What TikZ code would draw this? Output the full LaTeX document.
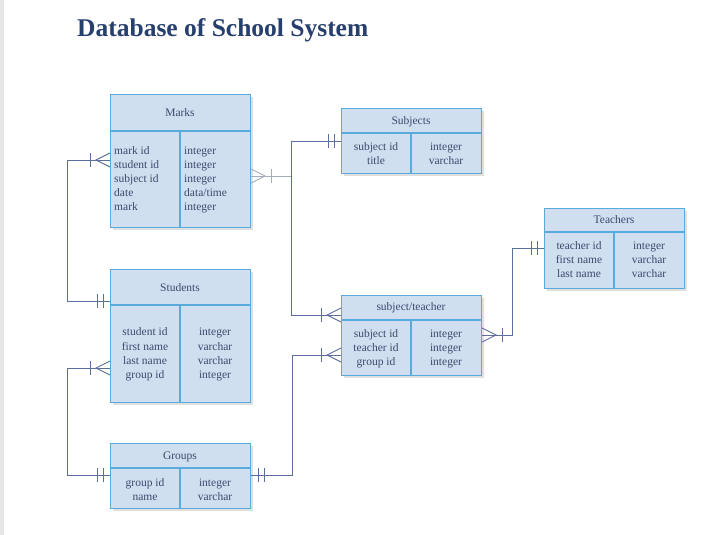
\documentclass[tikz,border=0pt]{standalone}
\usepackage{fontspec}
\setmainfont{Liberation Serif}
\usetikzlibrary{shadows}
\definecolor{boxfill}{HTML}{CFDFF0}
\definecolor{boxedge}{HTML}{5AAADC}
\definecolor{ink}{HTML}{3C4A6C}
\definecolor{conn}{HTML}{5C6E9E}
\definecolor{connlight}{HTML}{A4ACBC}
\definecolor{titleblue}{HTML}{263F6C}
\definecolor{stripgray}{HTML}{E6E6E6}
\begin{document}
\begin{tikzpicture}[x=1pt,y=-1pt,
  tbl/.style={draw=boxedge, fill=boxfill, line width=1.1pt, anchor=north west, inner sep=0pt,
    drop shadow={opacity=0.25, shadow xshift=2pt, shadow yshift=-2pt}},
  boxline/.style={draw=boxedge, line width=1.1pt},
  cell/.style={text=ink, font=\fontsize{11.5}{14}\selectfont, inner sep=0pt, text height=8pt, text depth=2.5pt, yshift=-2pt},
  link/.style={draw=conn, line width=0.9pt},
  linklight/.style={draw=connlight, line width=0.9pt},
  crow/.pic={\draw[pic actions] (0,-7) -- (14,0) -- (0,7); \draw[pic actions] (20,-7) -- (20,7);},
  dbar/.pic={\draw[pic actions] (7,-7) -- (7,7) (13,-7) -- (13,7);}
]
\useasboundingbox (0,0) rectangle (709,535);
\fill[stripgray] (0,0) rectangle (4,535);

\node[anchor=west, text=titleblue, font=\fontsize{25.5}{30}\selectfont\bfseries, inner sep=0pt] (title) at (77,30) {Database of School System};

% ---------- Marks ----------
\node[tbl, minimum width=140pt, minimum height=133pt] (marks) at (110,94) {};
\draw[boxline] (marks.west |- 0,131) -- (marks.east |- 0,131) (180,131) -- (marks.south -| 180,0);
\node[cell] (marks-h) at (180,112) {Marks};
\foreach \t [count=\i] in {mark id, student id, subject id, date, mark}
  \node[cell, anchor=west] (marks-l\i) at (114,{150+14*(\i-1)}) {\t};
\foreach \t [count=\i] in {integer, integer, integer, {data/time}, integer}
  \node[cell, anchor=west] (marks-r\i) at (184,{150+14*(\i-1)}) {\t};

% ---------- Students ----------
\node[tbl, minimum width=140pt, minimum height=133pt] (students) at (110,269) {};
\draw[boxline] (students.west |- 0,305) -- (students.east |- 0,305) (180,305) -- (students.south -| 180,0);
\node[cell] (students-h) at (180,287) {Students};
\foreach \t [count=\i] in {student id, first name, last name, group id}
  \node[cell] (students-l\i) at (145,{331+14.3*(\i-1)}) {\t};
\foreach \t [count=\i] in {integer, varchar, varchar, integer}
  \node[cell] (students-r\i) at (215,{331+14.3*(\i-1)}) {\t};

% ---------- Groups ----------
\node[tbl, minimum width=140pt, minimum height=65pt] (groups) at (110,443) {};
\draw[boxline] (groups.west |- 0,468) -- (groups.east |- 0,468) (180,468) -- (groups.south -| 180,0);
\node[cell] (groups-h) at (180,455) {Groups};
\foreach \t [count=\i] in {group id, name}
  \node[cell] (groups-l\i) at (145,{482+14*(\i-1)}) {\t};
\foreach \t [count=\i] in {integer, varchar}
  \node[cell] (groups-r\i) at (215,{482+14*(\i-1)}) {\t};

% ---------- Subjects ----------
\node[tbl, minimum width=140pt, minimum height=65pt] (subjects) at (341,108) {};
\draw[boxline] (subjects.west |- 0,133) -- (subjects.east |- 0,133) (411,133) -- (subjects.south -| 411,0);
\node[cell] (subjects-h) at (411,120) {Subjects};
\foreach \t [count=\i] in {subject id, title}
  \node[cell] (subjects-l\i) at (376,{146+14*(\i-1)}) {\t};
\foreach \t [count=\i] in {integer, varchar}
  \node[cell] (subjects-r\i) at (446,{146+14*(\i-1)}) {\t};

% ---------- subject/teacher ----------
\node[tbl, minimum width=140pt, minimum height=80pt] (st) at (341,295) {};
\draw[boxline] (st.west |- 0,320) -- (st.east |- 0,320) (411,320) -- (st.south -| 411,0);
\node[cell] (st-h) at (411,306) {subject/teacher};
\foreach \t [count=\i] in {subject id, teacher id, group id}
  \node[cell] (st-l\i) at (376,{333+14*(\i-1)}) {\t};
\foreach \t [count=\i] in {integer, integer, integer}
  \node[cell] (st-r\i) at (446,{333+14*(\i-1)}) {\t};

% ---------- Teachers ----------
\node[tbl, minimum width=140pt, minimum height=80pt] (teachers) at (544,208) {};
\draw[boxline] (teachers.west |- 0,232) -- (teachers.east |- 0,232) (614,232) -- (teachers.south -| 614,0);
\node[cell] (teachers-h) at (614,219) {Teachers};
\foreach \t [count=\i] in {teacher id, first name, last name}
  \node[cell] (teachers-l\i) at (579,{245+14*(\i-1)}) {\t};
\foreach \t [count=\i] in {integer, varchar, varchar}
  \node[cell] (teachers-r\i) at (649,{245+14*(\i-1)}) {\t};

% ---------- connectors ----------
% Marks -- Students
\draw[link] (marks.west |- 0,160) -- (67,160) -- (67,301) -- (students.west |- 0,301);
\pic[conn, line width=0.9pt, rotate=180] at (marks.west |- 0,160) {crow};
\pic[conn, line width=0.9pt, rotate=180] at (students.west |- 0,301) {dbar};
% Students -- Groups
\draw[link] (students.west |- 0,368) -- (67,368) -- (67,475) -- (groups.west |- 0,475);
\pic[conn, line width=0.9pt, rotate=180] at (students.west |- 0,368) {crow};
\pic[conn, line width=0.9pt, rotate=180] at (groups.west |- 0,475) {dbar};
% Marks -- Subjects
\draw[linklight] (marks.east |- 0,176) -- (291,176);
\draw[link] (291,176) -- (291,141) -- (subjects.west |- 0,141);
\pic[connlight, line width=0.9pt] at (marks.east |- 0,176) {crow};
\pic[conn, line width=0.9pt, rotate=180] at (subjects.west |- 0,141) {dbar};
% Subjects -- subject/teacher
\draw[link] (291,141) -- (291,315) -- (st.west |- 0,315);
\pic[conn, line width=0.9pt, rotate=180] at (st.west |- 0,315) {crow};
% Groups -- subject/teacher
\draw[link] (groups.east |- 0,475) -- (292,475) -- (292,355) -- (st.west |- 0,355);
\pic[conn, line width=0.9pt] at (groups.east |- 0,475) {dbar};
\pic[conn, line width=0.9pt, rotate=180] at (st.west |- 0,355) {crow};
% subject/teacher -- Teachers
\draw[link] (st.east |- 0,335) -- (512,335) -- (512,248) -- (teachers.west |- 0,248);
\pic[conn, line width=0.9pt] at (st.east |- 0,335) {crow};
\pic[conn, line width=0.9pt, rotate=180] at (teachers.west |- 0,248) {dbar};
\end{tikzpicture}
\end{document}
